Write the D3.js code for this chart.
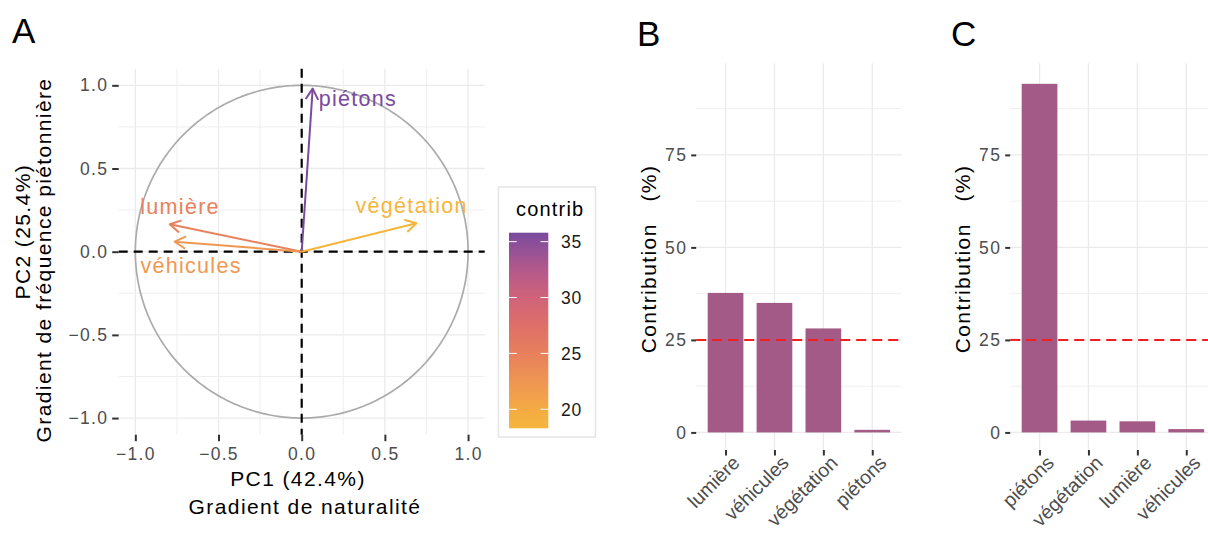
<!DOCTYPE html>
<html><head><meta charset="utf-8">
<script src="https://cdn.jsdelivr.net/npm/d3@7"></script>
<style>
body{margin:0;background:#fff;}
svg text{font-family:"Liberation Sans",Arial,sans-serif;}
</style></head>
<body><svg id="c" width="1208" height="535"></svg>
<script>
// ---------- data ----------
const variables = ["piétons", "lumière", "véhicules", "végétation"];
const pc1 = [0.066, -0.793, -0.763, 0.689];
const pc2 = [0.980, 0.165, 0.060, 0.171];
const contrib = [35.8, 24.8, 22.2, 18.3];
const labelPc1 = [0.338, -0.731, -0.665, 0.661];
const labelPc2 = [0.876, 0.227, -0.126, 0.231];
const axisTicksA = [-1, -0.5, 0, 0.5, 1];
const minorTicksA = [-0.75, -0.25, 0.25, 0.75];
const catsB = ["lumière", "véhicules", "végétation", "piétons"];
const valsB = [37.7, 35.0, 28.1, 0.7];
const catsC = ["piétons", "végétation", "lumière", "véhicules"];
const valsC = [94.2, 3.2, 3.0, 0.9];
const contribTicks = [0, 25, 50, 75];
const contribMinor = [12.5, 37.5, 62.5, 87.5];
const expectedContrib = 25;
const contribLimits = [0, 95];
const legendTicks = [20, 25, 30, 35];
const gradStops = [18.3, 20, 22.2, 24.8, 27.5, 30, 32.5, 35.8];
const gradColors = ["#F6B63C", "#F4AB44", "#EF9852", "#E8815C", "#DE6F69", "#D0637A", "#B3598C", "#7A4A9E"];

const FONT = '"Liberation Sans", Arial, sans-serif';
const svg = d3.select("#c");
svg.append("rect").attr("width", 1208).attr("height", 535).attr("fill", "#fff");
const col = d3.scaleLinear().domain(gradStops).range(gradColors);

function styleAxis(g, ls) {
  g.attr("font-family", FONT);
  g.select(".domain").remove();
  g.selectAll(".tick line").attr("stroke", "#333").attr("stroke-width", 2);
  g.selectAll(".tick text").attr("fill", "#4D4D4D").attr("font-size", 17.5)
    .attr("letter-spacing", ls);
}

// ---------- Panel A ----------
const gA = svg.append("g");
const xA = d3.scaleLinear().domain([-1.1, 1.1]).range([118.7, 484.7]);
const yA = d3.scaleLinear().domain([-1.1, 1.1]).range([434.7, 68.7]);

function gridA(vals, w) {
  gA.append("g").selectAll("line").data(vals).join("line")
    .attr("x1", d => xA(d)).attr("x2", d => xA(d))
    .attr("y1", yA(-1.1)).attr("y2", yA(1.1))
    .attr("stroke", "#EBEBEB").attr("stroke-width", w);
  gA.append("g").selectAll("line").data(vals).join("line")
    .attr("y1", d => yA(d)).attr("y2", d => yA(d))
    .attr("x1", xA(-1.1)).attr("x2", xA(1.1))
    .attr("stroke", "#EBEBEB").attr("stroke-width", w);
}
gridA(minorTicksA, 0.8);
gridA(axisTicksA, 1.3);

const angles = d3.range(0, 2 * Math.PI + 0.001, Math.PI / 180);
gA.append("path")
  .attr("d", d3.line().x(t => xA(Math.cos(t))).y(t => yA(Math.sin(t)))(angles))
  .attr("fill", "none").attr("stroke", "#ABABAB").attr("stroke-width", 1.7);

gA.append("line").attr("x1", xA(-1.1)).attr("x2", xA(1.1)).attr("y1", yA(0)).attr("y2", yA(0))
  .attr("stroke", "#000").attr("stroke-width", 2.2).attr("stroke-dasharray", "9,6");
gA.append("line").attr("y1", yA(1.1)).attr("y2", yA(-1.1)).attr("x1", xA(0)).attr("x2", xA(0))
  .attr("stroke", "#000").attr("stroke-width", 2.2).attr("stroke-dasharray", "9,6");

const arrows = variables.map((v, i) => ({v, x: pc1[i], y: pc2[i], c: contrib[i], lx: labelPc1[i], ly: labelPc2[i]}));
const ag = gA.append("g");
arrows.forEach(d => {
  const ox = xA(0), oy = yA(0), tx = xA(d.x), ty = yA(d.y);
  const a = Math.atan2(ty - oy, tx - ox), L = 12.5, h = Math.PI / 6;
  const colr = col(d.c);
  ag.append("line").attr("x1", ox).attr("y1", oy).attr("x2", tx).attr("y2", ty)
    .attr("stroke", colr).attr("stroke-width", 2);
  ag.append("path")
    .attr("d", `M${tx - L * Math.cos(a - h)},${ty - L * Math.sin(a - h)}L${tx},${ty}L${tx - L * Math.cos(a + h)},${ty - L * Math.sin(a + h)}`)
    .attr("fill", "none").attr("stroke", colr).attr("stroke-width", 2).attr("stroke-linejoin", "round");
  ag.append("text").attr("x", xA(d.lx)).attr("y", yA(d.ly)).attr("text-anchor", "middle")
    .attr("font-size", 21.5).attr("letter-spacing", 1.3).attr("fill", colr).text(d.v);
});

gA.append("g").attr("transform", `translate(${xA(-1.1)},0)`)
  .call(d3.axisLeft(yA).tickValues(axisTicksA).tickSize(6.5).tickPadding(4).tickFormat(d3.format(".1f")))
  .call(g => styleAxis(g, 1.3));
gA.append("g").attr("transform", `translate(0,${yA(-1.1)})`)
  .call(d3.axisBottom(xA).tickValues(axisTicksA).tickSize(6.5).tickPadding(6.5).tickFormat(d3.format(".1f")))
  .call(g => styleAxis(g, 1.3));

function title(x, y, txt, opts = {}) {
  return svg.append("text").attr("x", x).attr("y", y).attr("text-anchor", opts.anchor || "middle")
    .attr("font-size", opts.size || 21).attr("letter-spacing", opts.ls === undefined ? 1.4 : opts.ls)
    .attr("fill", opts.fill || "#000").attr("transform", opts.transform || null)
    .style("white-space", "pre").text(txt);
}
title(298, 486, "PC1 (42.4%)");
title(305, 513.5, "Gradient de naturalité");
title(0, 0, "PC2 (25.4%)", {transform: "translate(30,231.7) rotate(-90)"});
title(0, 0, "Gradient de fréquence piétonnière", {transform: "translate(50.5,260) rotate(-90)"});

// legend
const lg = svg.append("g");
lg.append("rect").attr("x", 498.5).attr("y", 187).attr("width", 97).attr("height", 250)
  .attr("fill", "#fff").attr("stroke", "#E6E6E6").attr("stroke-width", 1.6);
title(516, 216, "contrib", {anchor: "start", size: 20, ls: 1.2});
const lScale = d3.scaleLinear().domain([d3.min(contrib), d3.max(contrib)]).range([428.3, 232.7]);
const grad = svg.append("defs").append("linearGradient").attr("id", "cg")
  .attr("x1", 0).attr("y1", 1).attr("x2", 0).attr("y2", 0);
const [cmin, cmax] = lScale.domain();
gradStops.forEach((s, i) => grad.append("stop").attr("offset", (s - cmin) / (cmax - cmin)).attr("stop-color", gradColors[i]));
lg.append("rect").attr("x", 509).attr("y", lScale(cmax)).attr("width", 39.3)
  .attr("height", lScale(cmin) - lScale(cmax)).attr("fill", "url(#cg)");
legendTicks.forEach(t => {
  lg.append("line").attr("x1", 509).attr("x2", 516.8).attr("y1", lScale(t)).attr("y2", lScale(t)).attr("stroke", "#fff").attr("stroke-width", 1);
  lg.append("line").attr("x1", 540.5).attr("x2", 548.3).attr("y1", lScale(t)).attr("y2", lScale(t)).attr("stroke", "#fff").attr("stroke-width", 1);
  lg.append("text").attr("x", 561).attr("y", lScale(t)).attr("dy", "0.36em").attr("font-size", 17.5)
    .attr("letter-spacing", 0.8).attr("fill", "#1A1A1A").text(t);
});

// ---------- Panels B & C ----------
function barPanel(cats, vals, x0, x1) {
  const g = svg.append("g");
  const span = contribLimits[1] - contribLimits[0];
  const y = d3.scaleLinear().domain([contribLimits[0] - 0.05 * span, contribLimits[1] + 0.05 * span]).range([450, 63.3]);
  const x = d3.scalePoint().domain(cats).range([x0, x1]).padding(0.6);
  const [yb, yt] = y.range();
  g.append("g").selectAll("line").data(contribMinor).join("line")
    .attr("x1", x0).attr("x2", x1).attr("y1", d => y(d)).attr("y2", d => y(d))
    .attr("stroke", "#EBEBEB").attr("stroke-width", 0.8);
  g.append("g").selectAll("line").data(contribTicks).join("line")
    .attr("x1", x0).attr("x2", x1).attr("y1", d => y(d)).attr("y2", d => y(d))
    .attr("stroke", "#EBEBEB").attr("stroke-width", 1.3);
  g.append("g").selectAll("line").data(cats).join("line")
    .attr("x1", d => x(d)).attr("x2", d => x(d)).attr("y1", yb).attr("y2", yt)
    .attr("stroke", "#EBEBEB").attr("stroke-width", 1.3);
  const bw = x.step() * 0.73;
  g.append("g").selectAll("rect").data(cats.map((c, i) => ({c, v: vals[i]}))).join("rect")
    .attr("x", d => x(d.c) - bw / 2).attr("width", bw)
    .attr("y", d => y(d.v)).attr("height", d => y(0) - y(d.v))
    .attr("fill", "#A45A86");
  g.append("line").attr("x1", x0).attr("x2", x1).attr("y1", y(expectedContrib)).attr("y2", y(expectedContrib))
    .attr("stroke", "#F01E1E").attr("stroke-width", 2).attr("stroke-dasharray", "10,6");
  g.append("g").attr("transform", `translate(${x0},0)`)
    .call(d3.axisLeft(y).tickValues(contribTicks).tickSize(5).tickPadding(4))
    .call(a => styleAxis(a, 1.3));
  g.append("g").attr("transform", `translate(0,${yb})`)
    .call(d3.axisBottom(x).tickSize(5.5))
    .call(a => styleAxis(a, 0))
    .call(a => a.selectAll(".tick text").attr("x", 0).attr("y", 0).attr("dy", 0)
      .attr("font-size", 19.5).attr("letter-spacing", null)
      .attr("text-anchor", "end").attr("transform", "translate(15,14) rotate(-45)"));
  title(0, 0, "Contribution   (%)", {transform: `translate(${x0 - 40},259) rotate(-90)`});
}
barPanel(catsB, valsB, 696.2, 901.6);
barPanel(catsC, valsC, 1010.2, 1215.6);

// panel letters
title(12, 43, "A", {anchor: "start", size: 35, ls: 0});
title(637, 46, "B", {anchor: "start", size: 35, ls: 0});
title(951, 46, "C", {anchor: "start", size: 35, ls: 0});
</script>
</body></html>
